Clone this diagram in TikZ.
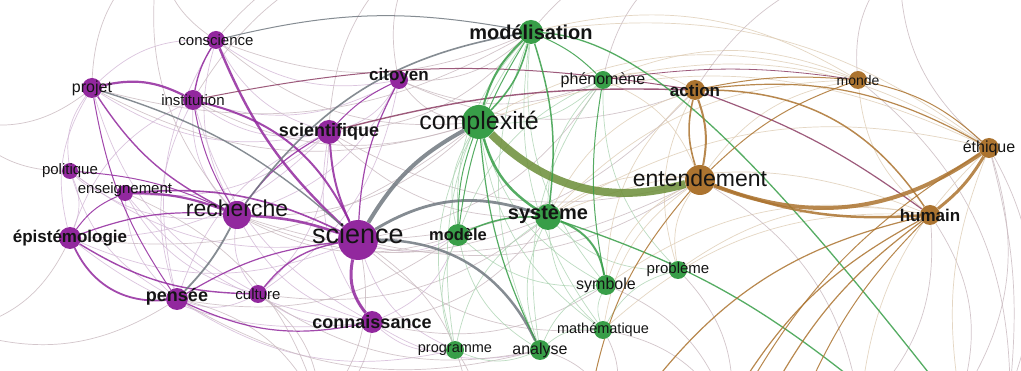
\documentclass[tikz,border=0pt]{standalone}
\usepackage{fontspec}
\setmainfont{Liberation Sans}
\pgfdeclarelayer{edges}
\pgfsetlayers{edges,main}
\definecolor{cP}{RGB}{146,40,158}
\definecolor{cG}{RGB}{56,158,72}
\definecolor{cB}{RGB}{172,116,48}
\definecolor{cGr}{RGB}{112,120,128}
\definecolor{cOl}{RGB}{108,142,56}
\definecolor{cM}{RGB}{140,62,100}
\definecolor{fP}{RGB}{210,182,214}
\definecolor{fG}{RGB}{172,212,178}
\definecolor{fB}{RGB}{222,204,180}
\definecolor{fR}{RGB}{200,184,190}
\definecolor{txt}{RGB}{20,20,20}
\newcommand\lsz[1]{\fontsize{#1}{#1}\selectfont}
\tikzset{
  pd/.style={circle, fill=cP, draw=none, inner sep=0, minimum size=#1},
  gd/.style={circle, fill=cG, draw=none, inner sep=0, minimum size=#1},
  bd/.style={circle, fill=cB, draw=none, inner sep=0, minimum size=#1},
  lab/.style={text=txt, inner sep=0},
  fe/.style={draw=#1, line width=0.7pt, opacity=0.8},
  se/.style={draw=#1, opacity=0.85},
}
\begin{document}
\begin{tikzpicture}[x=1pt, y=-1pt]
\useasboundingbox (0,0) rectangle (1021,371);
% vertices
\node[pd=18] (con) at (216,40) {};
\node[pd=20] (pro) at (92,88) {};
\node[pd=20] (ins) at (193,100) {};
\node[pd=16] (pol) at (70,171) {};
\node[pd=16] (ens) at (125,193) {};
\node[pd=22] (epi) at (70,238) {};
\node[pd=28] (rec) at (237,215) {};
\node[pd=24] (sct) at (329,132) {};
\node[pd=18] (cit) at (399,80) {};
\node[pd=40] (sci) at (358,240) {};
\node[pd=18] (cul) at (258,294) {};
\node[pd=22] (pen) at (177,299) {};
\node[pd=22] (cnn) at (372,322) {};
\node[gd=24] (mod) at (531,32) {};
\node[gd=18] (phe) at (603,80) {};
\node[gd=34] (cpx) at (479,122) {};
\node[bd=20] (act) at (695,90) {};
\node[bd=18] (mon) at (858,80) {};
\node[bd=20] (eth) at (989,148) {};
\node[bd=30] (ent) at (700,180) {};
\node[bd=20] (hum) at (930,215) {};
\node[gd=26] (sys) at (548,217) {};
\node[gd=22] (mdl) at (458,235) {};
\node[gd=20] (sym) at (606,285) {};
\node[gd=18] (prb) at (678,270) {};
\node[gd=18] (mat) at (603,330) {};
\node[gd=18] (prg) at (455,350) {};
\node[gd=20] (ana) at (540,350) {};
% ends of links that leave the frame
\coordinate (t1) at (160,-50);
\coordinate (t2) at (430,-60);
\coordinate (t3) at (700,-50);
\coordinate (t4) at (900,-40);
\coordinate (o1) at (320,410);
\coordinate (o2) at (470,420);
\coordinate (o3) at (610,410);
\coordinate (o4) at (730,420);
\coordinate (o5) at (860,410);
\coordinate (o6) at (960,400);
\coordinate (o7) at (1010,390);
\coordinate (l1) at (-40,330);
\coordinate (l2) at (-40,120);
\coordinate (far1) at (950,400);
\coordinate (far2) at (860,385);
\coordinate (br1) at (590,400);
\coordinate (br2) at (640,400);
\coordinate (br3) at (735,395);
\coordinate (br4) at (770,395);
\coordinate (br5) at (805,395);

\begin{pgfonlayer}{edges}
\fill[white] (0,0) rectangle (1021,371);
\begin{scope}
\clip (0,0) rectangle (1021,371);
% faint links
\foreach \a/\b in {con/sct,con/rec,con/cit,con/pro,pro/epi,pro/sct,pro/pol,ins/rec,ins/pen,ins/epi,ins/sct,ins/cit,pol/sci,pol/pen,pol/ens,ens/pen,ens/cul,ens/sct,epi/sci,epi/cnn,epi/pol,rec/cul,rec/cnn,rec/cit,sct/cit,sct/cnn,sct/pen,cul/cnn,pen/cul,cul/sct,sci/mdl,sci/prg,cnn/prg,cnn/ana,cnn/mdl,pen/prg,pro/cul,ins/cnn,con/pen,pol/rec,epi/sct,ens/cnn,cul/cit}
  \draw[fe=fP] (\a) to[bend right=22] (\b);
\foreach \a/\b in {con/mod,con/cpx,pro/cpx,ins/cpx,rec/cpx,sct/mod,cit/cpx,cit/mod,sci/phe,sci/mat,rec/sys,pen/ana,cul/sys,cnn/sys,sct/ent,cit/act,sci/ent,rec/ent,sci/act,pen/mdl,cul/ana,epi/cpx,pro/mod,cit/phe,cnn/sym,rec/mdl,sct/sys}
  \draw[fe=fR] (\a) to[bend right=22] (\b);
\foreach \a/\b in {mod/mdl,mod/sym,mod/ana,mod/prg,phe/sys,phe/mdl,phe/prb,cpx/phe,cpx/mdl,cpx/prg,cpx/sym,sys/ana,sys/mat,sys/prb,sys/prg,mdl/ana,mdl/prg,mdl/sym,sym/mat,sym/ana,prb/mat,mat/ana,prg/ana,phe/ana,mod/mat,cpx/mat}
  \draw[fe=fG] (\a) to[bend right=22] (\b);
\foreach \a/\b in {act/phe,act/sys,mon/hum,mon/ent,mon/phe,ent/phe,ent/sys,ent/sym,ent/prb,ent/mat,hum/prb,hum/sym,hum/mat,eth/phe,eth/sys,hum/sys,act/prb,act/sym,mon/cpx,mon/sys,eth/cpx,mon/mod,eth/mod}
  \draw[fe=fB] (\a) to[bend right=22] (\b);
\foreach \a/\b in {con/t1,pro/t1,ins/t2,cit/t2,mod/t3,sct/t2,phe/t3,act/t4,mon/t4,eth/t4,sci/o1,sci/o2,cnn/o1,pen/o1,cul/o1,prg/o2,ana/o3,mat/o3,sym/o4,prb/o4,hum/o5,hum/o6,eth/o7,ent/o5,epi/l1,pol/l2,pro/l2,ens/o1,pen/l1,mat/o4,eth/o6,mon/o7,con/t2,rec/t1}
  \draw[fe=fR] (\a) to[bend left=25] (\b);
\draw[fe=fB] (o5) to[bend left=20] (eth);
\draw[fe=fB] (o6) to[bend left=15] (eth);
\draw[fe=fR] (o7) to[bend right=10] (eth);

% purple links
\draw[se=cP, line width=2.4pt] (con) to[bend right=12] (sci);
\draw[se=cP, line width=2.2pt] (pro) to[bend left=20] (ins);
\draw[se=cP, line width=2pt] (ins) to[bend left=25] (sci);
\draw[se=cP, line width=2.6pt] (rec) to[bend left=8] (sci);
\draw[se=cP, line width=3pt] (sci) to[bend right=25] (cnn);
\draw[se=cP, line width=1.8pt] (epi) to[bend right=35] (pen);
\draw[se=cP, line width=1.4pt] (epi) to[bend right=15] (cul);
\draw[se=cP, line width=2.2pt] (ens) to[bend left=10] (rec);
\draw[se=cP, line width=1.4pt] (pro) to[bend right=15] (rec);
\draw[se=cP, line width=2pt] (sct) to[bend right=10] (sci);
\draw[se=cP, line width=1.2pt] (cit) to[bend right=12] (sci);
\draw[se=cP, line width=1.4pt] (cul) to[bend left=20] (sci);
\draw[se=cP, line width=1.2pt] (pen) to[bend left=12] (sci);
\draw[se=cP, line width=1.4pt] (con) to[bend right=10] (ins);
\draw[se=cP, line width=1.2pt] (epi) to[bend left=12] (rec);
\draw[se=cP, line width=1.6pt] (ens) to[bend left=15] (sci);
\draw[se=cP, line width=1.2pt] (pen) to[bend right=18] (cnn);
\draw[se=cP, line width=1.2pt] (rec) to[bend left=12] (sct);
\draw[se=cP, line width=1pt] (pol) to[bend left=10] (rec);
\draw[se=cP, line width=1pt] (epi) to[bend left=15] (ens);
\draw[se=cP, line width=1pt] (pro) to[bend right=12] (pen);
\draw[se=cP, line width=1pt] (ins) to[bend right=10] (rec);
\draw[se=cP, line width=1pt] (cit) to[bend right=10] (sct);

% grey links
\draw[se=cGr, line width=4pt] (sci) to[bend left=15] (cpx);
\draw[se=cGr, line width=2.8pt] (sci) to[bend left=25] (sys);
\draw[se=cGr, line width=2.5pt] (sci) to[bend left=32] (ana);
\draw[se=cGr, line width=1.8pt] (pen) to[bend right=8] (rec);
\draw[se=cGr, line width=1.4pt] (pro) to[bend left=12] (sci);
\draw[se=cGr, line width=1.6pt] (rec) to[bend left=22] (mod);
\draw[se=cGr, line width=1pt] (con) to[bend left=12] (mod);

% maroon links
\draw[se=cM, line width=1.4pt] (sct) to[bend left=8] (act);
\draw[se=cM, line width=1pt] (ins) to[bend left=10] (act);
\draw[se=cM, line width=1.2pt] (act) to[bend left=8] (hum);
\draw[se=cM, line width=0.8pt] (phe) to[bend left=8] (mon);

% green links
\draw[se=cOl, line width=8pt] (cpx) to[bend right=30] (ent);
\draw[se=cG, line width=2pt] (cpx) to[bend left=15] (mod);
\draw[se=cG, line width=1.6pt] (cpx) to[bend right=15] (mod);
\draw[se=cG, line width=2.5pt] (cpx) to[bend right=20] (sys);
\draw[se=cG, line width=1.5pt] (mod) to[bend left=12] (sys);
\draw[se=cG, line width=1pt] (mod) to[bend left=10] (phe);
\draw[se=cG, line width=1.3pt] (mod) .. controls (650,40) and (770,170) .. (far1);
\draw[se=cG, line width=2pt] (sys) to[bend left=30] (sym);
\draw[se=cG, line width=1.3pt] (sys) to[bend left=10] (far2);
\draw[se=cG, line width=1.5pt] (sys) to[bend right=12] (mdl);
\draw[se=cG, line width=1pt] (phe) to[bend right=10] (sym);
\draw[se=cG, line width=1.2pt] (cpx) to[bend right=10] (ana);
\draw[se=cG, line width=1pt] (mdl) to[bend left=10] (cpx);
\draw[se=cG, line width=1pt] (mod) to[bend right=12] (mdl);

% brown links
\draw[se=cB, line width=4pt] (ent) to[bend right=28] (eth);
\draw[se=cB, line width=2.5pt] (ent) to[bend right=12] (hum);
\draw[se=cB, line width=3pt] (hum) to[bend right=10] (eth);
\draw[se=cB, line width=2pt] (act) to[bend left=15] (ent);
\draw[se=cB, line width=1.6pt] (act) to[bend right=15] (ent);
\draw[se=cB, line width=1.5pt] (act) to[bend left=28] (hum);
\draw[se=cB, line width=1.2pt] (act) to[bend left=18] (eth);
\draw[se=cB, line width=1pt] (mon) to[bend left=15] (eth);
\draw[se=cB, line width=1pt] (act) to[bend left=8] (mon);
\draw[se=cB, line width=1pt] (ent) to[bend left=12] (mon);
\draw[se=cB, line width=1.2pt] (hum) to[bend right=20] (br2);
\draw[se=cB, line width=1.2pt] (hum) to[bend right=15] (br3);
\draw[se=cB, line width=1.2pt] (hum) to[bend right=12] (br4);
\draw[se=cB, line width=1pt] (hum) to[bend right=10] (br5);
\draw[se=cB, line width=1pt] (ent) to[bend right=15] (br1);
\draw[se=cB, line width=1pt] (eth) to[bend right=15] (o4);
\end{scope}
\end{pgfonlayer}

% labels (yshift is upward on the page)
\node[lab, font=\lsz{15}] (con-t) at (con) {conscience};
\node[lab, font=\lsz{16}] (pro-t) at (pro) {projet};
\node[lab, font=\lsz{15}] (ins-t) at (ins) {institution};
\node[lab, font=\lsz{15}] (pol-t) at (pol) {politique};
\node[lab, font=\lsz{15}] (ens-t) at ([yshift=3]ens) {enseignement};
\node[lab, font=\lsz{17}\bfseries] (epi-t) at (epi) {épistémologie};
\node[lab, font=\lsz{23}] (rec-t) at ([yshift=7]rec) {recherche};
\node[lab, font=\lsz{18}\bfseries] (sct-t) at (sct) {scientifique};
\node[lab, font=\lsz{17}\bfseries] (cit-t) at ([yshift=4]cit) {citoyen};
\node[lab, font=\lsz{27}] (sci-t) at ([yshift=6]sci) {science};
\node[lab, font=\lsz{15}] (cul-t) at (cul) {culture};
\node[lab, font=\lsz{18}\bfseries] (pen-t) at ([yshift=2]pen) {pensée};
\node[lab, font=\lsz{18}\bfseries] (cnn-t) at (cnn) {connaissance};
\node[lab, font=\lsz{20}\bfseries] (mod-t) at (mod) {modélisation};
\node[lab, font=\lsz{16}] (phe-t) at (phe) {phénomène};
\node[lab, font=\lsz{25}] (cpx-t) at ([yshift=-1]cpx) {complexité};
\node[lab, font=\lsz{17}\bfseries] (act-t) at (act) {action};
\node[lab, font=\lsz{14}] (mon-t) at (mon) {monde};
\node[lab, font=\lsz{16}] (eth-t) at (eth) {éthique};
\node[lab, font=\lsz{23}] (ent-t) at ([yshift=2]ent) {entendement};
\node[lab, font=\lsz{17}\bfseries] (hum-t) at (hum) {humain};
\node[lab, font=\lsz{20}\bfseries] (sys-t) at ([yshift=3]sys) {système};
\node[lab, font=\lsz{16.5}\bfseries] (mdl-t) at (mdl) {modèle};
\node[lab, font=\lsz{16}] (sym-t) at (sym) {symbole};
\node[lab, font=\lsz{15}] (prb-t) at (prb) {problème};
\node[lab, font=\lsz{14.5}] (mat-t) at (mat) {mathématique};
\node[lab, font=\lsz{14.5}] (prg-t) at (prg) {programme};
\node[lab, font=\lsz{16}] (ana-t) at (ana) {analyse};
\end{tikzpicture}
\end{document}
